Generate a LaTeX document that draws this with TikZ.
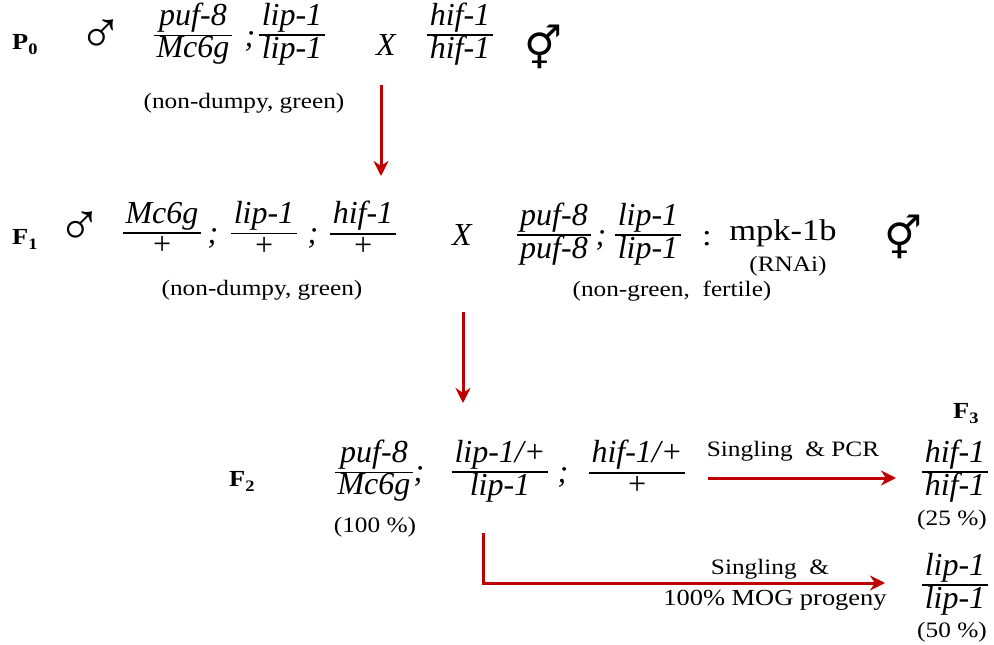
\documentclass[tikz,border=0pt]{standalone}
\usepackage{fontspec}
\setmainfont{Liberation Serif}[FakeStretch=1.15]
\newfontfamily\gi{Liberation Serif Italic}
\newfontfamily\symthin{Liberation Serif}
\newfontfamily\symfont{DejaVu Sans}
\usetikzlibrary{arrows.meta}
\definecolor{arrred}{RGB}{192,0,0}
\newcommand\gfr[2]{{\setlength\arrayrulewidth{1.6pt}\setlength\tabcolsep{3pt}\begin{tabular}{c}\gi #1\\\hline\gi #2\end{tabular}}}
\newcommand\gsub[2]{#1\raisebox{-0.25em}{\fontsize{16}{16}\selectfont #2}}
\begin{document}
\begin{tikzpicture}[x=1pt,y=-1pt,
  frac/.style={inner sep=0pt, font=\fontsize{32}{30}\selectfont},
  sep/.style={inner sep=0pt, anchor=base, font=\fontsize{32}{30}\gi},
  lbl/.style={inner sep=0pt, font=\fontsize{22}{24}\selectfont},
  gen/.style={inner sep=0pt, anchor=base west, font=\fontsize{23}{24}\selectfont\bfseries},
  male/.style={inner sep=0pt, font=\fontsize{60}{60}\symthin},
  herm/.style={inner sep=0pt, font=\fontsize{42}{42}\symfont},
  arr/.style={draw=arrred, line width=3pt, -{Stealth[length=15pt,width=15pt]}}]
\useasboundingbox (0,0) rectangle (994,645);
% P0 row
\node[gen] (p0) at (12,49) {\gsub{P}{0}};
\node[male] (p0m) at (101,37) {♂};
\node[frac] (p0f1) at (193,35) {\gfr{puf-8}{Mc6g}};
\node[sep] (p0s1) at (250,46) {;};
\node[frac] (p0f2) at (292,35) {\gfr{lip-1}{lip-1}};
\node[sep] (p0x) at (386,55) {X};
\node[frac] (p0f3) at (460,35) {\gfr{hif-1}{hif-1}};
\node[herm] (p0h) at (543,47) {⚥};
\node[lbl] (p0l) at (244,103) {(non-dumpy, green)};
% F1 row
\node[gen] (f1) at (12,244) {\gsub{F}{1}};
\node[male] (f1m) at (80,229) {♂};
\node[frac] (f1f1) at (162,233) {\gfr{Mc6g}{+}};
\node[sep] (f1s1) at (213,243) {;};
\node[frac] (f1f2) at (264,233) {\gfr{lip-1}{+}};
\node[sep] (f1s2) at (313,243) {;};
\node[frac] (f1f3) at (363,233) {\gfr{hif-1}{+}};
\node[sep] (f1x) at (462,245) {X};
\node[frac] (f1f4) at (554,235) {\gfr{puf-8}{puf-8}};
\node[sep] (f1s3) at (601,245) {;};
\node[frac] (f1f5) at (648,235) {\gfr{lip-1}{lip-1}};
\node[sep,font=\fontsize{30}{30}\selectfont] (f1c) at (707,245) {:};
\node[sep,font=\fontsize{30}{30}\selectfont] (f1r) at (783,240) {mpk-1b};
\node[lbl] (f1rn) at (788,266) {(RNAi)};
\node[herm] (f1h) at (903,237) {⚥};
\node[lbl] (f1l1) at (262,290) {(non-dumpy, green)};
\node[lbl] (f1l2) at (672,291) {(non-green,\ \ fertile)};
% F2 row
\node[gen] (f2) at (229,486) {\gsub{F}{2}};
\node[frac] (f2f1) at (374,472) {\gfr{puf-8}{Mc6g}};
\node[sep] (f2s1) at (419,481) {;};
\node[frac] (f2f2) at (500,472) {\gfr{lip-1/+}{lip-1}};
\node[sep] (f2s2) at (563,482) {;};
\node[frac] (f2f3) at (637,472) {\gfr{hif-1/+}{+}};
\node[lbl] (f2l) at (375,527) {(100 \%)};
% F3
\node[gen] (f3) at (953,418) {\gsub{F}{3}};
\node[frac] (f3a) at (955,472) {\gfr{hif-1}{hif-1}};
\node[lbl] (f3al) at (952,520) {(25 \%)};
\node[frac] (f3b) at (955,585) {\gfr{lip-1}{lip-1}};
\node[lbl] (f3bl) at (952,632) {(50 \%)};
% arrows
\coordinate (a1s) at (381,85);
\coordinate (a1e) at (381,176);
\draw[arr] (a1s) -- (a1e);
\coordinate (a2s) at (463,312);
\coordinate (a2e) at (463,403);
\draw[arr] (a2s) -- (a2e);
\coordinate (a3s) at (708,478);
\coordinate (a3e) at (896,478);
\draw[arr] (a3s) -- (a3e);
\node[lbl] (a3l) at (793,451) {Singling\ \ \& PCR};
\coordinate (a4s) at (483,533);
\coordinate (a4e) at (885,583);
\draw[arr] (a4s) |- (a4e);
\node[lbl] (a4l1) at (770,569) {Singling\ \ \&};
\node[lbl,font=\fontsize{23}{24}\selectfont] (a4l2) at (775,600) {100\% MOG progeny};
\end{tikzpicture}
\end{document}
